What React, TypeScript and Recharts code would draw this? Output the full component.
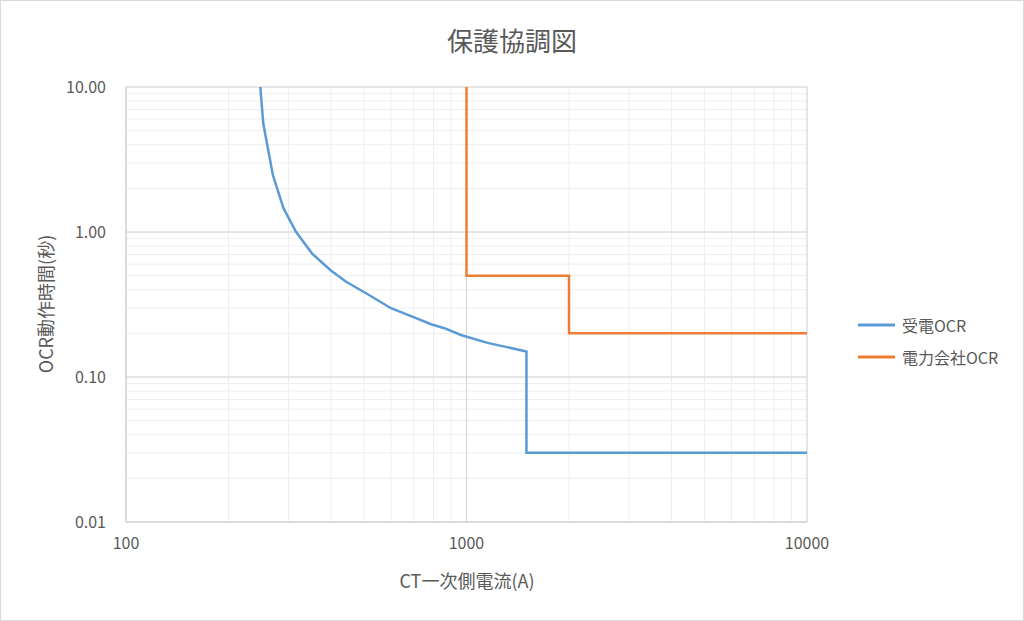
import { LineChart, Line, XAxis, YAxis, CartesianGrid, ReferenceLine } from 'recharts';

// Grid ticks (log axes)
const X_TICKS = [100, 200, 300, 400, 500, 600, 700, 800, 900, 1000, 2000, 3000, 4000, 5000, 6000, 7000, 8000, 9000, 10000];
const Y_TICKS = [
  0.01, 0.02, 0.03, 0.04, 0.05, 0.06, 0.07, 0.08, 0.09,
  0.1, 0.2, 0.3, 0.4, 0.5, 0.6, 0.7, 0.8, 0.9,
  1, 2, 3, 4, 5, 6, 7, 8, 9, 10,
];
const X_LABELS = [100, 1000, 10000];
const Y_LABELS = [0.01, 0.1, 1, 10];
const MAJOR_X = [1000, 10000];
const MAJOR_Y = [0.1, 1, 10];

// 受電OCR (current A, time s)
const receivingOcr = [
  { x: 248, y: 10 },
  { x: 253, y: 5.6 },
  { x: 270, y: 2.47 },
  { x: 290, y: 1.46 },
  { x: 316, y: 1.0 },
  { x: 352, y: 0.71 },
  { x: 398, y: 0.547 },
  { x: 443, y: 0.454 },
  { x: 507, y: 0.378 },
  { x: 600, y: 0.298 },
  { x: 702, y: 0.258 },
  { x: 787, y: 0.231 },
  { x: 861, y: 0.217 },
  { x: 963, y: 0.195 },
  { x: 1153, y: 0.172 },
  { x: 1263, y: 0.164 },
  { x: 1500, y: 0.15 },
  { x: 1500, y: 0.03 },
  { x: 10000, y: 0.03 },
];

// 電力会社OCR
const utilityOcr = [
  { x: 1000, y: 10 },
  { x: 1000, y: 0.5 },
  { x: 2000, y: 0.5 },
  { x: 2000, y: 0.2 },
  { x: 10000, y: 0.2 },
];

const SERIES = [
  { name: '受電OCR', color: '#5B9BD5', data: receivingOcr },
  { name: '電力会社OCR', color: '#ED7D31', data: utilityOcr },
];

const FONT = '"Noto Sans CJK JP", "Noto Sans", sans-serif';
const TEXT = '#595959';

function LegendBox() {
  return (
    <div style={{ fontFamily: FONT, fontSize: 16, color: TEXT }}>
      {SERIES.map(s => (
        <div key={s.name} style={{ display: 'flex', alignItems: 'center', height: 32 }}>
          <svg width={44} height={10}>
            <line x1={0} y1={5} x2={37} y2={5} stroke={s.color} strokeWidth={3} />
          </svg>
          <span>{s.name}</span>
        </div>
      ))}
    </div>
  );
}

export default function App() {
  return (
    <div
      style={{
        position: 'absolute',
        left: 0,
        top: 0,
        width: 1024,
        height: 621,
        border: '1px solid #d9d9d9',
        boxSizing: 'border-box',
        background: '#fff',
        fontFamily: FONT,
      }}
    >
      <div
        style={{
          position: 'absolute',
          top: 20,
          left: 0,
          width: 1022,
          textAlign: 'center',
          fontSize: 26,
          color: TEXT,
        }}
      >
        保護協調図
      </div>
      <div style={{ position: 'absolute', left: 0, top: 0 }}>
        <LineChart width={1022} height={619} margin={{ top: 86, right: 216, bottom: 38, left: 0 }}>
          <CartesianGrid stroke="#eeeeee" />
          {MAJOR_X.map(v => (
            <ReferenceLine key={`mx-${v}`} x={v} stroke="#d4d4d4" />
          ))}
          {MAJOR_Y.map(v => (
            <ReferenceLine key={`my-${v}`} y={v} stroke="#d4d4d4" />
          ))}
          <XAxis
            type="number"
            dataKey="x"
            scale="log"
            domain={[100, 10000]}
            ticks={X_TICKS}
            interval={0}
            allowDataOverflow
            height={60}
            tickLine={false}
            tickMargin={10}
            axisLine={{ stroke: '#bfbfbf' }}
            tick={{ fontSize: 16, fill: TEXT }}
            tickFormatter={(v: number) => (X_LABELS.includes(v) ? String(v) : '')}
          />
          <YAxis
            type="number"
            dataKey="y"
            scale="log"
            domain={[0.01, 10]}
            ticks={Y_TICKS}
            interval={0}
            allowDataOverflow
            width={125}
            tickLine={false}
            tickMargin={14}
            axisLine={{ stroke: '#bfbfbf' }}
            tick={{ fontSize: 16, fill: TEXT }}
            tickFormatter={(v: number) => (Y_LABELS.includes(v) ? v.toFixed(2) : '')}
          />
          {SERIES.map(s => (
            <Line
              key={s.name}
              data={s.data}
              dataKey="y"
              name={s.name}
              type="linear"
              stroke={s.color}
              strokeWidth={2.5}
              dot={false}
              isAnimationActive={false}
            />
          ))}
        </LineChart>
      </div>
      <div style={{ position: 'absolute', left: 857, top: 308 }}>
        <LegendBox />
      </div>
      <div
        style={{
          position: 'absolute',
          top: 566,
          left: 366,
          width: 200,
          textAlign: 'center',
          fontSize: 18,
          color: TEXT,
        }}
      >
        CT一次側電流(A)
      </div>
      <div
        style={{
          position: 'absolute',
          left: 44,
          top: 303,
          transform: 'translate(-50%, -50%) rotate(-90deg)',
          whiteSpace: 'nowrap',
          fontSize: 18,
          color: TEXT,
        }}
      >
        OCR動作時間(秒)
      </div>
    </div>
  );
}
